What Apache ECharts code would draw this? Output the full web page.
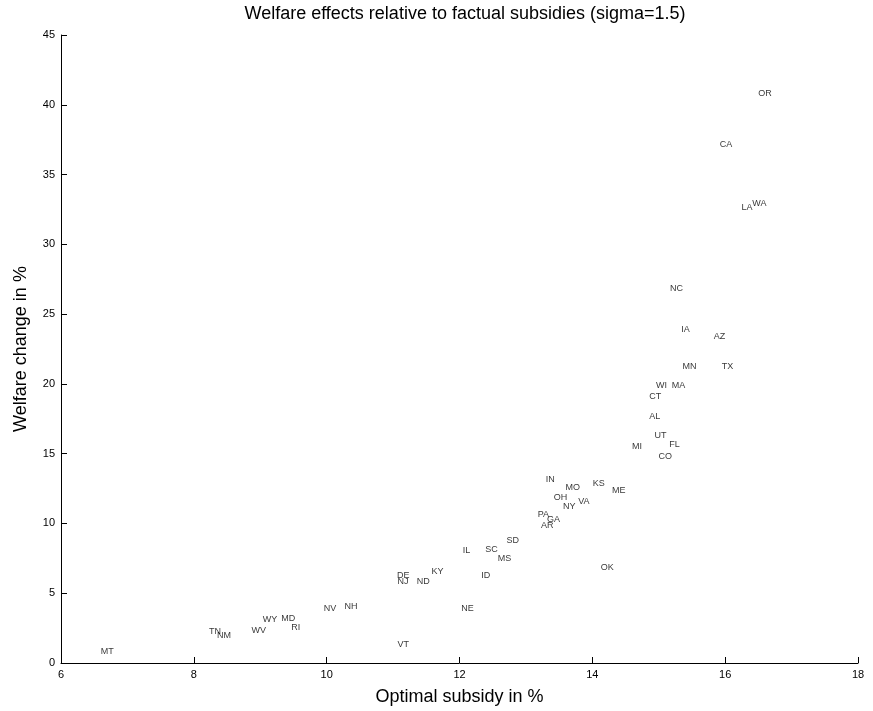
<!DOCTYPE html>
<html>
<head>
<meta charset="utf-8">
<script src="https://cdn.jsdelivr.net/npm/echarts@6/dist/echarts.min.js"></script>
<style>
  html, body { margin: 0; padding: 0; background: #fff; }
  #chart { width: 873px; height: 711px; }
</style>
</head>
<body>
<div id="chart"></div>
<script>
// State abbreviations and their (optimal subsidy %, welfare change %) pairs
const states = ['MT','TN','NM','WV','WY','MD','RI','NV','NH','VT','DE','NJ','ND','KY','NE','IL','ID','SC','MS','SD',
  'AR','PA','GA','IN','OH','NY','MO','VA','KS','ME','OK','MI','CO','FL','UT','AL','CT','WI','MA','MN','TX','IA','AZ','NC',
  'LA','WA','CA','OR'];
const optimalSubsidy = [6.59,8.22,8.34,8.86,9.03,9.31,9.46,9.95,10.26,11.06,11.05,11.06,11.35,11.57,12.02,12.04,12.32,12.38,12.57,12.70,
  13.22,13.17,13.31,13.29,13.41,13.55,13.59,13.78,14.00,14.29,14.12,14.59,14.99,15.15,14.93,14.85,14.85,14.95,15.19,15.35,15.94,15.33,15.82,15.16,
  16.24,16.40,15.91,16.49];
const welfareChange = [0.84,2.26,1.95,2.31,3.09,3.19,2.52,3.91,4.02,1.34,6.24,5.84,5.84,6.52,3.93,8.07,6.24,8.16,7.52,8.75,
  9.84,10.64,10.31,13.16,11.86,11.24,12.59,11.59,12.84,12.38,6.84,15.52,14.81,15.66,16.31,17.69,19.09,19.90,19.90,21.21,21.21,23.93,23.38,26.86,
  32.64,32.95,37.16,40.81];

const xTicks = [6, 8, 10, 12, 14, 16, 18];
const yTicks = [0, 5, 10, 15, 20, 25, 30, 35, 40, 45];

const points = states.map((s, i) => ({ name: s, value: [optimalSubsidy[i], welfareChange[i]] }));

const font = 'Liberation Sans, Arial, sans-serif';
const chart = echarts.init(document.getElementById('chart'), null, { renderer: 'canvas' });

chart.setOption({
  backgroundColor: '#ffffff',
  animation: false,
  title: {
    text: 'Welfare effects relative to factual subsidies (sigma=1.5)',
    left: 460, top: 0, textAlign: 'center',
    textStyle: { fontFamily: font, fontSize: 18, fontWeight: 'normal', color: '#000' }
  },
  grid: { left: 61, right: 15, top: 35, bottom: 46, containLabel: false },
  xAxis: {
    type: 'value',
    min: xTicks[0], max: xTicks[xTicks.length - 1], interval: 2,
    name: 'Optimal subsidy in %', nameLocation: 'middle', nameGap: 25,
    nameTextStyle: { fontFamily: font, fontSize: 18, color: '#000' },
    axisLine: { show: true, lineStyle: { color: '#000', width: 1 } },
    axisTick: { show: true, inside: true, length: 6, lineStyle: { color: '#000' } },
    axisLabel: { fontFamily: font, fontSize: 11, color: '#000', margin: 6 },
    splitLine: { show: false }
  },
  yAxis: {
    type: 'value',
    min: yTicks[0], max: yTicks[yTicks.length - 1], interval: 5,
    name: 'Welfare change in %', nameLocation: 'middle', nameGap: 31, nameRotate: 90,
    nameTextStyle: { fontFamily: font, fontSize: 18, color: '#000' },
    axisLine: { show: true, lineStyle: { color: '#000', width: 1 } },
    axisTick: { show: true, inside: true, length: 6, lineStyle: { color: '#000' } },
    axisLabel: { fontFamily: font, fontSize: 11, color: '#000', margin: 6 },
    splitLine: { show: false }
  },
  series: [{
    type: 'scatter',
    data: points,
    symbol: 'circle',
    symbolSize: 1,
    itemStyle: { color: 'rgba(0,0,0,0)' },
    emphasis: { disabled: true },
    labelLayout: { hideOverlap: false },
    label: {
      show: true,
      position: 'right',
      distance: 0,
      formatter: p => p.name,
      fontFamily: font,
      fontSize: 9,
      color: '#000'
    }
  }]
});
</script>
</body>
</html>
